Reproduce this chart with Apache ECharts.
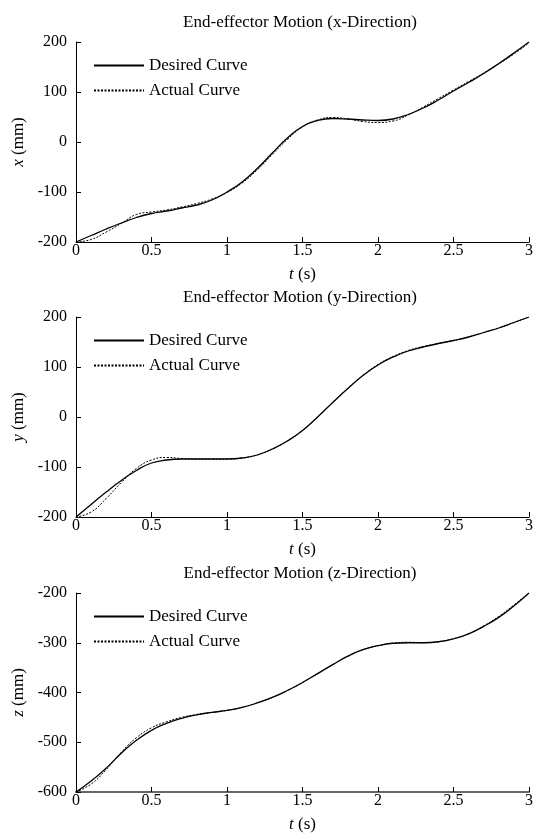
<!DOCTYPE html>
<html>
<head>
<meta charset="utf-8">
<title>End-effector Motion</title>
<script src="https://cdn.jsdelivr.net/npm/echarts@6/dist/echarts.min.js"></script>
<style>
  body { margin: 0; background: #fff; }
  #chart { width: 536px; height: 834px; }
</style>
</head>
<body>
<div id="chart"></div>
<script>
// time samples (s)
const tValues = [0, 0.1, 0.2, 0.3, 0.4, 0.5, 0.6, 0.7, 0.8, 0.9, 1.0, 1.1, 1.2, 1.3, 1.4, 1.5,
  1.6, 1.7, 1.8, 1.9, 2.0, 2.1, 2.2, 2.3, 2.4, 2.5, 2.6, 2.7, 2.8, 2.9, 3.0]

// x direction (mm)
const xDesired = [-200, -187, -174, -162, -151, -143, -138, -132, -126, -116, -100, -80, -53, -22, 8, 31,
  43, 47, 46, 44, 43, 46, 55, 68, 84, 102, 119, 137, 157, 178, 200]
const xActual = [-200, -195, -180, -163, -145, -140, -136, -130, -123, -114, -101, -82, -56, -25, 5, 30,
  44, 49, 46, 41, 39, 42, 54, 70, 87, 104, 121, 138, 156, 176, 198]

// y direction (mm)
const yDesired = [-200, -175, -150, -127, -107, -92, -86, -84, -84, -84, -84, -82, -76, -64, -48, -27,
  0, 29, 57, 83, 104, 120, 132, 140, 147, 153, 160, 169, 178, 189, 200]
const yActual = [-200, -190, -163, -131, -103, -86, -81, -83, -84, -84, -84, -82, -76, -64, -48, -27,
  0, 29, 57, 83, 105, 121, 133, 141, 147, 153, 160, 169, 178, 189, 200]

// z direction (mm)
const zDesired = [-600, -578, -552, -522, -496, -476, -462, -452, -445, -440, -436, -430, -421, -410, -396, -380,
  -362, -344, -327, -314, -306, -301, -300, -300, -298, -292, -282, -267, -249, -226, -200]
const zActual = [-600, -584, -555, -520, -491, -471, -459, -450, -444, -440, -436, -430, -421, -410, -396, -380,
  -362, -344, -327, -314, -306, -301, -299, -300, -298, -292, -282, -266, -247, -224, -200]

const titles = ['End-effector Motion (x-Direction)', 'End-effector Motion (y-Direction)', 'End-effector Motion (z-Direction)']
const axisVars = ['x', 'y', 'z']
const yRanges = [[-200, 200], [-200, 200], [-600, -200]]
const seriesNames = ['Desired Curve', 'Actual Curve']

const font = 'Liberation Serif'
const gridTops = [42, 317, 593]

const pairs = (vals) => tValues.map((t, i) => [t, vals[i]])
const desired = [xDesired, yDesired, zDesired]
const actual = [xActual, yActual, zActual]

let myChart = echarts.init(document.getElementById('chart'))

const option = {
  backgroundColor: '#fff',
  animation: false,
  color: ['#000', '#000'],
  title: [],
  legend: [],
  grid: [],
  xAxis: [],
  yAxis: [],
  series: []
}

for (let k = 0; k < 3; k++) {
  const top = gridTops[k]
  option.title.push({
    text: titles[k],
    left: 300,
    textAlign: 'center',
    top: top - 28,
    padding: 0,
    textStyle: { fontFamily: font, fontSize: 17, fontWeight: 'normal', color: '#000' }
  })
  option.grid.push({ left: 76, top: top, width: 456, height: 200 })
  option.legend.push({
    data: seriesNames,
    orient: 'vertical',
    left: 88,
    top: top + 10,
    itemWidth: 50,
    itemHeight: 14,
    itemGap: 8,
    selectedMode: false,
    itemStyle: { opacity: 0 },
    textStyle: { fontFamily: font, fontSize: 17, color: '#000' }
  })
  option.xAxis.push({
    type: 'value',
    gridIndex: k,
    min: 0,
    max: 3,
    interval: 0.5,
    name: '{i|t} (s)',
    nameLocation: 'middle',
    nameGap: 24,
    nameTextStyle: {
      fontFamily: font, fontSize: 17, color: '#000',
      rich: { i: { fontFamily: font, fontSize: 17, fontStyle: 'italic', color: '#000' } }
    },
    axisLine: { show: true, onZero: false, lineStyle: { color: k === 2 ? '#666' : '#000', width: k === 2 ? 2 : 1 } },
    axisTick: { show: true, inside: true, length: 5, lineStyle: { color: '#000' } },
    axisLabel: { fontFamily: font, fontSize: 16, color: '#000', margin: 1 },
    splitLine: { show: false }
  })
  option.yAxis.push({
    type: 'value',
    gridIndex: k,
    min: yRanges[k][0],
    max: yRanges[k][1],
    interval: 100,
    name: '{i|' + axisVars[k] + '} (mm)',
    nameLocation: 'middle',
    nameRotate: 90,
    nameGap: 39,
    nameTextStyle: {
      fontFamily: font, fontSize: 17, color: '#000',
      rich: { i: { fontFamily: font, fontSize: 17, fontStyle: 'italic', color: '#000' } }
    },
    axisLine: { show: true, onZero: false, lineStyle: { color: '#000', width: 1 } },
    axisTick: { show: true, inside: true, length: 5, lineStyle: { color: '#000' } },
    axisLabel: { fontFamily: font, fontSize: 16, color: '#000', margin: 9 },
    splitLine: { show: false }
  })
  //期望曲线
  option.series.push({
    name: seriesNames[0],
    type: 'line',
    xAxisIndex: k,
    yAxisIndex: k,
    data: pairs(desired[k]),
    smooth: true,
    symbol: 'none',
    itemStyle: { color: '#000' },
    lineStyle: { color: '#000', width: 1.3, type: 'solid' }
  })
  //实际曲线
  option.series.push({
    name: seriesNames[1],
    type: 'line',
    xAxisIndex: k,
    yAxisIndex: k,
    data: pairs(actual[k]),
    smooth: true,
    symbol: 'none',
    itemStyle: { color: '#000' },
    lineStyle: { color: '#000', width: 1, type: [2, 1.5] }
  })
}

myChart.setOption(option)
</script>
</body>
</html>
